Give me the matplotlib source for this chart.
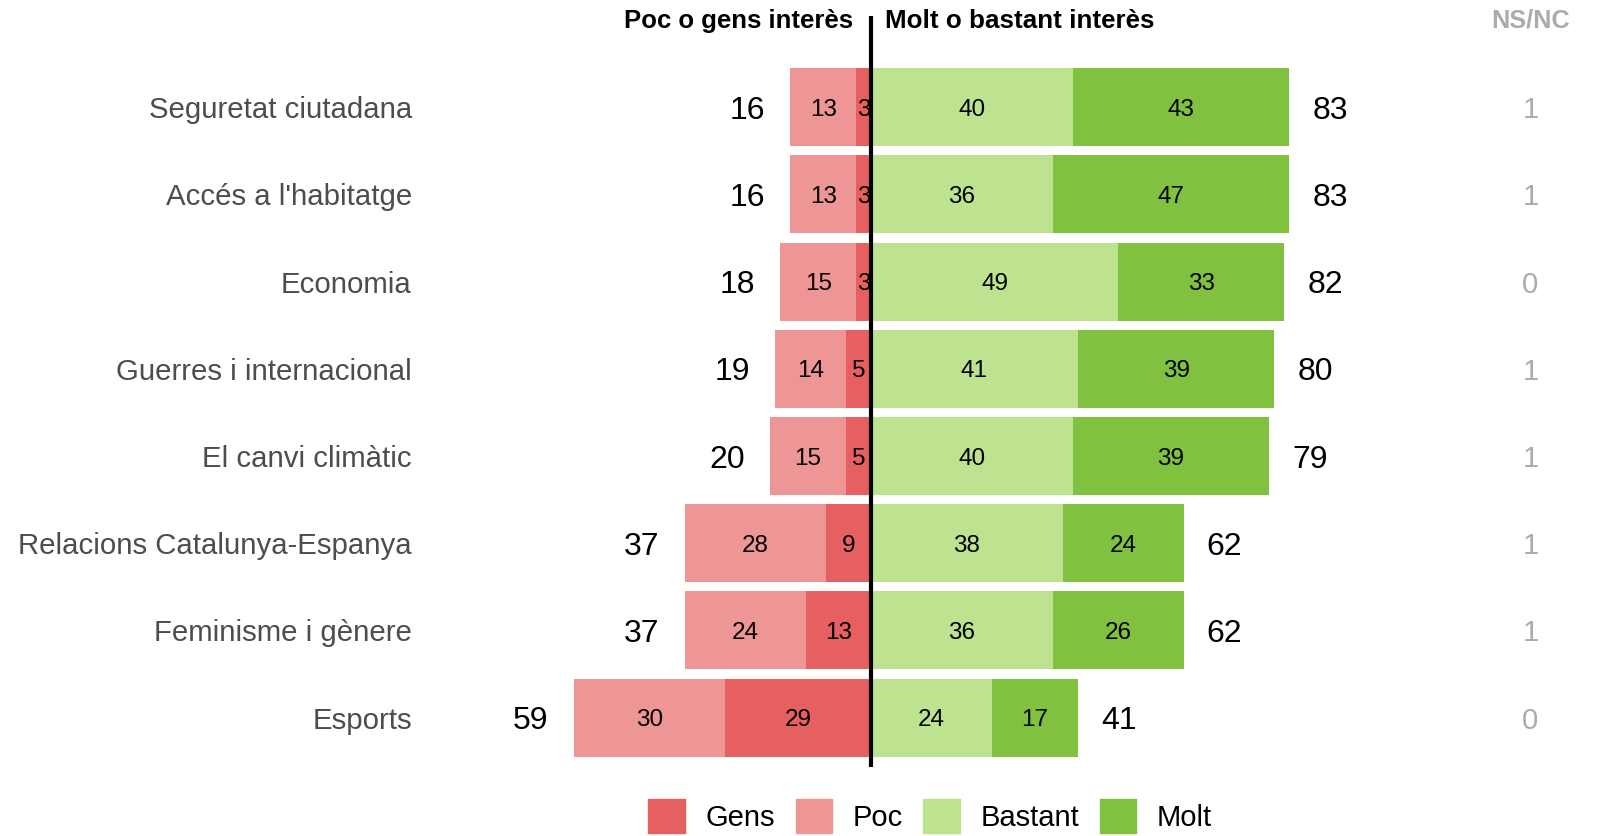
import numpy as np
import matplotlib.pyplot as plt
from matplotlib.patches import Patch

plt.rcParams['font.family'] = ['Liberation Sans', 'DejaVu Sans']

# Data (percentages)
temes = ["Seguretat ciutadana", "Accés a l'habitatge", "Economia",
         "Guerres i internacional", "El canvi climàtic",
         "Relacions Catalunya-Espanya", "Feminisme i gènere", "Esports"]
gens = [3, 3, 3, 5, 5, 9, 13, 29]
poc = [13, 13, 15, 14, 15, 28, 24, 30]
bastant = [40, 36, 49, 41, 40, 38, 36, 24]
molt = [43, 47, 33, 39, 39, 24, 26, 17]
nsnc = [1, 1, 0, 1, 1, 1, 1, 0]

c_gens = "#E65F61"
c_poc = "#EE9696"
c_bastant = "#BDE391"
c_molt = "#80C140"

gens = np.array(gens)
poc = np.array(poc)
bastant = np.array(bastant)
molt = np.array(molt)
neg_total = gens + poc
pos_total = bastant + molt
y = np.arange(len(temes))

fig = plt.figure(figsize=(15.97, 8.36), dpi=100)
ax = fig.add_axes([0, 0, 1, 1])
ax.set_xlim(-172.8, 144.0)
ax.set_ylim(8.357, -1.23)
ax.axis('off')

h = 0.895
ax.barh(y, -gens, height=h, color=c_gens)
ax.barh(y, -poc, left=-gens, height=h, color=c_poc)
ax.barh(y, bastant, height=h, color=c_bastant)
ax.barh(y, molt, left=bastant, height=h, color=c_molt)

# segment labels
va = 'center_baseline'
for i in y:
    ax.text(-gens[i] / 2, i, str(gens[i]), ha='center', va=va, fontsize=17.5)
    ax.text(-gens[i] - poc[i] / 2, i, str(poc[i]), ha='center', va=va, fontsize=17.5)
    ax.text(bastant[i] / 2, i, str(bastant[i]), ha='center', va=va, fontsize=17.5)
    ax.text(bastant[i] + molt[i] / 2, i, str(molt[i]), ha='center', va=va, fontsize=17.5)
    # totals
    ax.text(-neg_total[i] - 8.6, i, str(neg_total[i]), ha='center', va=va, fontsize=23)
    ax.text(pos_total[i] + 8.1, i, str(pos_total[i]), ha='center', va=va, fontsize=23)
    # category and NS/NC
    ax.text(-91.1, i, temes[i], ha='right', va=va, fontsize=21.2, color='#4D4D4D')
    ax.text(130.8, i, str(nsnc[i]), ha='center', va=va, fontsize=21.2, color='#ABABAB')

# centre line
ax.plot([0, 0], [-1.05, 7.56], color='black', lw=3, solid_capstyle='butt', zorder=5)

# headers
ax.text(-3.6, -0.99, "Poc o gens interès", ha='right', va='center',
        fontsize=18.5, fontweight='bold')
ax.text(2.8, -0.99, "Molt o bastant interès", ha='left', va='center',
        fontsize=18.7, fontweight='bold')
ax.text(130.8, -0.99, "NS/NC", ha='center', va='center',
        fontsize=18.2, fontweight='bold', color='#ABABAB')

handles = [Patch(color=c_gens, label='Gens'), Patch(color=c_poc, label='Poc'),
           Patch(color=c_bastant, label='Bastant'), Patch(color=c_molt, label='Molt')]
fig.legend(handles=handles, loc='upper center', bbox_to_anchor=(0.5825, 0.0443),
           ncol=4, frameon=False, fontsize=21, handlelength=1.24, handleheight=1.4,
           handletextpad=0.72, columnspacing=0.7, borderpad=0, borderaxespad=0)

fig.savefig('out.png', dpi=100)
